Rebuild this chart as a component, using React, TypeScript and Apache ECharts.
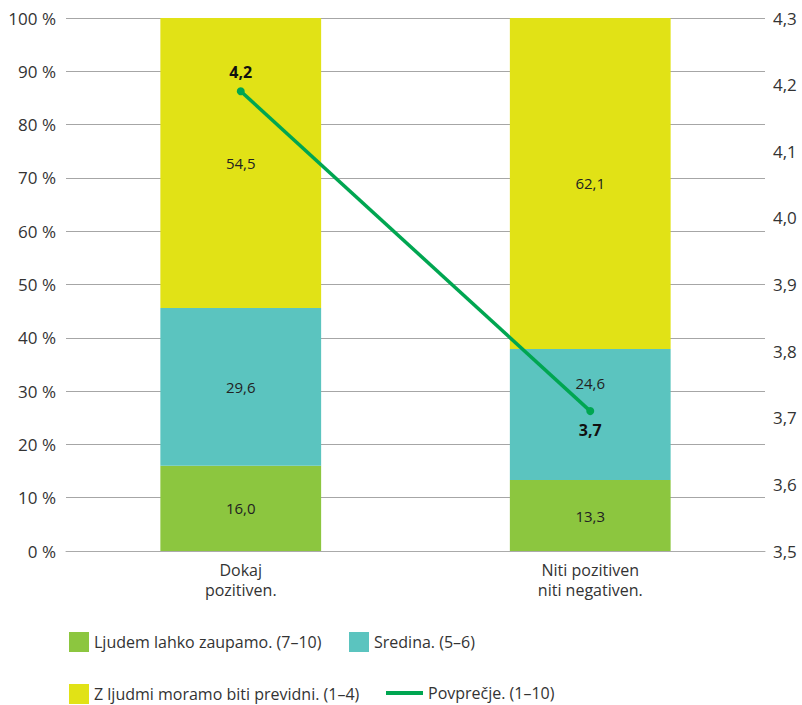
import React, { useEffect, useRef } from "react";
import * as echarts from "echarts";

const categories = ["Dokaj\npozitiven.", "Niti pozitiven\nniti negativen."];
const trustValues = [16.0, 13.3];
const middleValues = [29.6, 24.6];
const cautiousValues = [54.5, 62.1];
const averageValues = [4.19, 3.71];
const leftTicks = { min: 0, max: 100, interval: 10 };
const rightTicks = { min: 3.5, max: 4.3, interval: 0.1 };

const seriesNames = [
  "Ljudem lahko zaupamo. (7–10)",
  "Sredina. (5–6)",
  "Z ljudmi moramo biti previdni. (1–4)",
  "Povprečje. (1–10)",
];
const colors = ["#8CC63F", "#5BC4BF", "#E1E216", "#00A651"];

const FONT = "'Open Sans', sans-serif";
const comma = (v: number) => v.toFixed(1).replace(".", ",");

export default function App() {
  const ref = useRef<HTMLDivElement>(null);
  useEffect(() => {
    if (!ref.current) return;
    const chart = echarts.init(ref.current, undefined, { renderer: "svg" });
    const barLabel = {
      show: true,
      position: "inside",
      color: "#222",
      fontSize: 15,
      fontFamily: FONT,
      formatter: (p: any) => comma(p.value),
    };
    const legendText = { color: "#333", fontSize: 16, lineHeight: 18, fontFamily: FONT };
    chart.setOption({
      animation: false,
      textStyle: { fontFamily: FONT },
      grid: { left: 66, right: 37, top: 18, bottom: 154 },
      legend: [
        { left: 64, top: 627, itemWidth: 20, itemHeight: 20, icon: "rect", data: [seriesNames[0]], textStyle: legendText },
        { left: 344, top: 627, itemWidth: 20, itemHeight: 20, icon: "rect", data: [seriesNames[1]], textStyle: legendText },
        { left: 64, top: 679, itemWidth: 20, itemHeight: 20, icon: "rect", data: [seriesNames[2]], textStyle: legendText },
        { left: 381, top: 679, itemWidth: 37, itemHeight: 4, icon: "rect", data: [seriesNames[3]], textStyle: legendText },
      ],
      xAxis: {
        type: "category",
        data: categories,
        axisLine: { lineStyle: { color: "#aaa" } },
        axisTick: { show: false },
        axisLabel: { color: "#333", fontSize: 16, lineHeight: 20, margin: 9, fontFamily: FONT },
      },
      yAxis: [
        {
          type: "value",
          min: leftTicks.min,
          max: leftTicks.max,
          interval: leftTicks.interval,
          axisLabel: { color: "#333", fontSize: 17, margin: 10, formatter: (v: number) => `${v} %`, fontFamily: FONT },
          splitLine: { lineStyle: { color: "#a6a6a6" } },
          axisLine: { show: false },
          axisTick: { show: false },
        },
        {
          type: "value",
          min: rightTicks.min,
          max: rightTicks.max,
          interval: rightTicks.interval,
          position: "right",
          axisLabel: { color: "#333", fontSize: 17, margin: 8, formatter: (v: number) => comma(v), fontFamily: FONT },
          splitLine: { show: false },
          axisLine: { show: false },
          axisTick: { show: false },
        },
      ],
      series: [
        { name: seriesNames[0], type: "bar", stack: "s", data: trustValues, barWidth: "46%", itemStyle: { color: colors[0] }, label: barLabel },
        {
          name: seriesNames[1],
          type: "bar",
          stack: "s",
          data: [middleValues[0], { value: middleValues[1], label: { offset: [0, -32] } }],
          itemStyle: { color: colors[1] },
          label: barLabel,
        },
        { name: seriesNames[2], type: "bar", stack: "s", data: cautiousValues, itemStyle: { color: colors[2] }, label: barLabel },
        {
          name: seriesNames[3],
          type: "line",
          yAxisIndex: 1,
          data: [
            { value: averageValues[0], label: { position: "top" } },
            { value: averageValues[1], label: { position: "bottom" } },
          ],
          symbol: "circle",
          symbolSize: 8,
          lineStyle: { color: colors[3], width: 3.5 },
          itemStyle: { color: colors[3] },
          label: {
            show: true,
            distance: 7,
            color: "#111",
            fontWeight: "bold",
            fontSize: 16,
            fontFamily: FONT,
            formatter: (p: any) => comma(p.value),
          },
          z: 5,
        },
      ],
    });
    return () => chart.dispose();
  }, []);
  return <div ref={ref} style={{ width: 802, height: 705, position: "absolute", left: 0, top: 0 }} />;
}
